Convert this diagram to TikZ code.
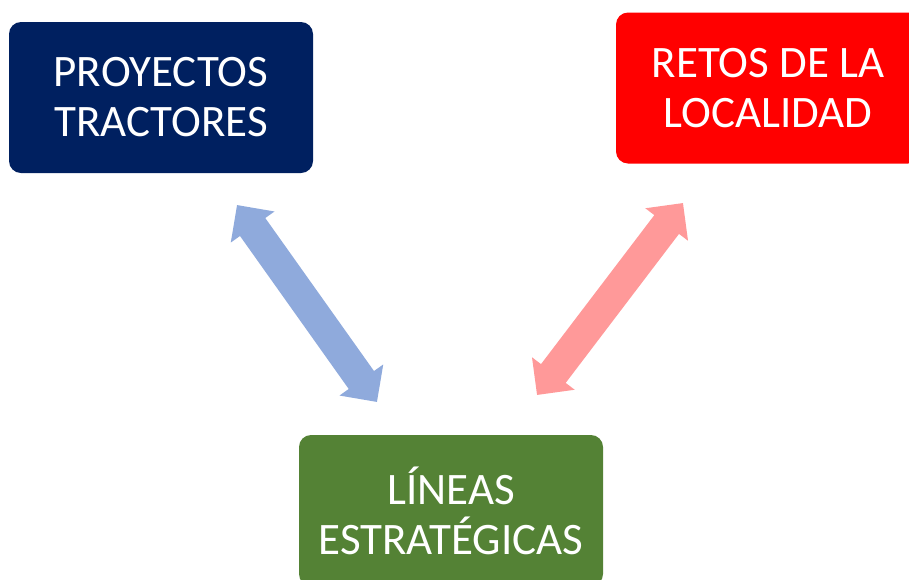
\documentclass[tikz,border=0pt]{standalone}
\usepackage{fontspec}
\setmainfont{Carlito}
\usetikzlibrary{arrows.meta}
\definecolor{azulmarino}{HTML}{002060}
\definecolor{rojo}{HTML}{FF0000}
\definecolor{verde}{HTML}{548235}
\definecolor{azulclaro}{HTML}{8FAADC}
\definecolor{rosa}{HTML}{FF9999}
\tikzset{
	caja/.style={rounded corners=12pt, minimum width=304pt, minimum height=151pt, inner sep=0pt, align=center, text=white, font=\fontsize{45}{50}\selectfont},
	flecha/.style={line width=31pt, <->, >={Triangle[width=52pt,length=27pt]}}
}
\begin{document}
\begin{tikzpicture}[x=1pt, y=-1pt]
		\clip (0,0) rectangle (909,579);
		% Cajas
			\node[caja, fill=azulmarino] (proyectos) at (161,97.5) {PROYECTOS\\TRACTORES};
			\node[caja, fill=rojo] (retos) at (768,88) {RETOS DE LA\\LOCALIDAD};
			\node[caja, fill=verde] (lineas) at (451,510.5) {LÍNEAS\\ESTRATÉGICAS};
		% Flechas
			% Proyectos - Lineas
				\coordinate (p1) at (237,205);
				\coordinate (p2) at (377,402);
				\draw[flecha, azulclaro] (p1) -- (p2);
			% Retos - Lineas
				\coordinate (r1) at (683,203);
				\coordinate (r2) at (537,395);
				\draw[flecha, rosa] (r1) -- (r2);
	\end{tikzpicture}
\end{document}
